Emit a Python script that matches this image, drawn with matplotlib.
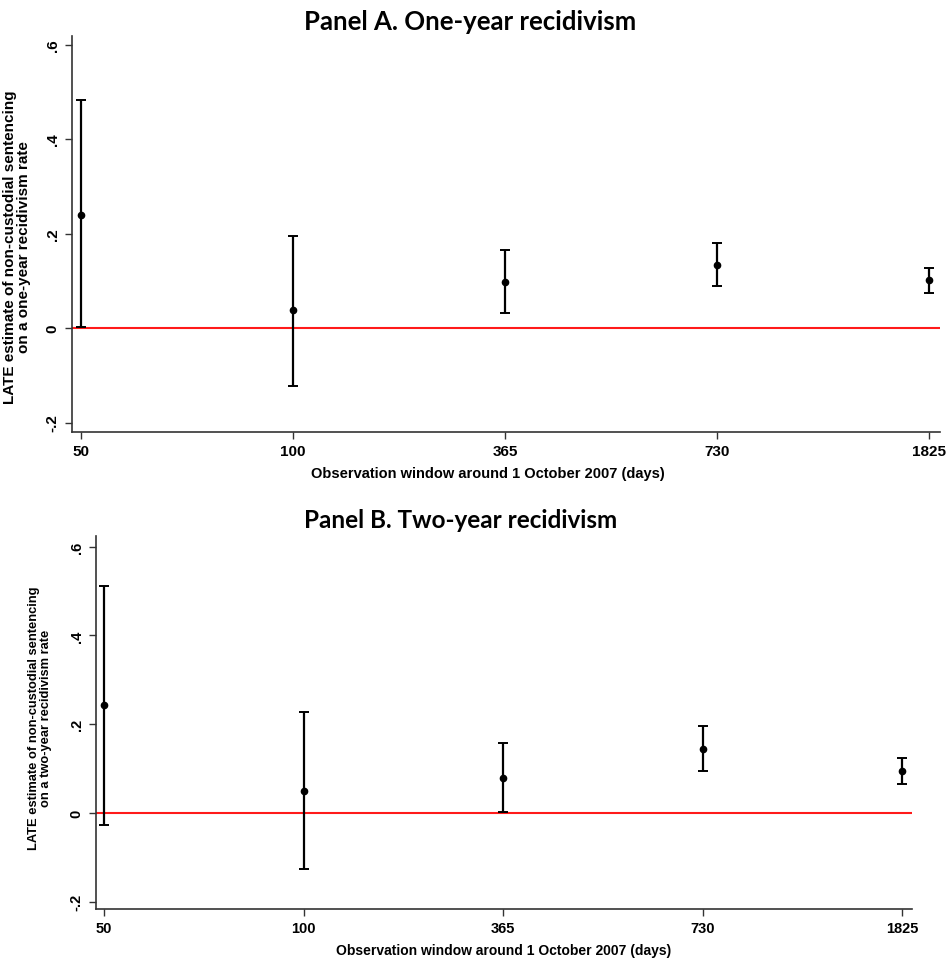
import matplotlib
matplotlib.use('Agg')
import matplotlib.pyplot as plt
import numpy as np

# observation windows (days) and LATE estimates with 95% CI
windows = ['50', '100', '365', '730', '1825']

# Panel A : one-year recidivism
est_a = [0.240, 0.038, 0.098, 0.134, 0.101]
lo_a = [0.002, -0.123, 0.031, 0.088, 0.075]
hi_a = [0.482, 0.195, 0.166, 0.181, 0.128]

# Panel B : two-year recidivism
est_b = [0.244, 0.050, 0.079, 0.145, 0.095]
lo_b = [-0.026, -0.126, 0.002, 0.095, 0.066]
hi_b = [0.512, 0.228, 0.157, 0.197, 0.125]

yticks = [-0.2, 0, 0.2, 0.4, 0.6]
ytick_labels = ['-.2', '0', '.2', '.4', '.6']

plt.rcParams['font.family'] = ['Liberation Sans', 'DejaVu Sans']

fig = plt.figure(figsize=(9.49, 9.62), dpi=100)
ax_a = fig.add_axes([0.0759, 0.5499, 0.9146, 0.4116])
ax_b = fig.add_axes([0.1012, 0.0541, 0.8599, 0.3877])


def draw_panel(ax, est, lo, hi, ylabel, ylim, xlim, lab_xy, lab_size,
               tick_size, xlab_size, xlab_xy):
    x = np.arange(len(windows))
    est = np.array(est)
    err = [est - np.array(lo), np.array(hi) - est]
    ax.axhline(0, color='#ff1a1a', lw=1.5, zorder=1)
    ax.errorbar(x, est, yerr=err, fmt='o', color='black', ms=4.5,
                elinewidth=1.6, capsize=3.6, capthick=1.4, zorder=3)
    ax.set_xticks(x)
    ax.set_xticklabels(windows, fontsize=tick_size, fontweight='bold')
    ax.set_yticks(yticks)
    ax.set_yticklabels(ytick_labels, fontsize=tick_size, fontweight='bold',
                       rotation=90, va='center')
    ax.set_ylim(ylim)
    ax.set_xlim(xlim)
    for s in ['top', 'right']:
        ax.spines[s].set_visible(False)
    for s in ['left', 'bottom']:
        ax.spines[s].set_color('#333333')
        ax.spines[s].set_linewidth(1.2)
    ax.tick_params(length=5, width=1, color='#333333', pad=4)
    ax.set_xlabel('Observation window around 1 October 2007 (days)',
                  fontsize=xlab_size, fontweight='bold')
    ax.xaxis.set_label_coords(*xlab_xy)
    ax.set_ylabel(ylabel, fontsize=lab_size, fontweight='bold',
                  linespacing=1.0)
    ax.yaxis.set_label_coords(*lab_xy)


draw_panel(ax_a, est_a, lo_a, hi_a,
           'LATE estimate of non-custodial sentencing\non a one-year recidivism rate',
           (-0.220, 0.618), (-0.042, 4.052), (-0.047, 0.47), 11,
           11, 10.5, (0.479, -0.085))
draw_panel(ax_b, est_b, lo_b, hi_b,
           'LATE estimate of non-custodial sentencing\non a two-year recidivism rate',
           (-0.216, 0.624), (-0.040, 4.050), (-0.054, 0.515), 9.3,
           10.5, 10, (0.5, -0.09))

fig.text(470 / 949, 1 - 22 / 962, 'Panel A. One-year recidivism',
         ha='center', va='center', fontsize=18.5, fontweight='bold',
         family=['Lato', 'DejaVu Sans'])
fig.text(461 / 949, 1 - 520 / 962, 'Panel B. Two-year recidivism',
         ha='center', va='center', fontsize=17.5, fontweight='bold',
         family=['Lato', 'DejaVu Sans'])

fig.savefig('out.png', dpi=100, facecolor='white')
